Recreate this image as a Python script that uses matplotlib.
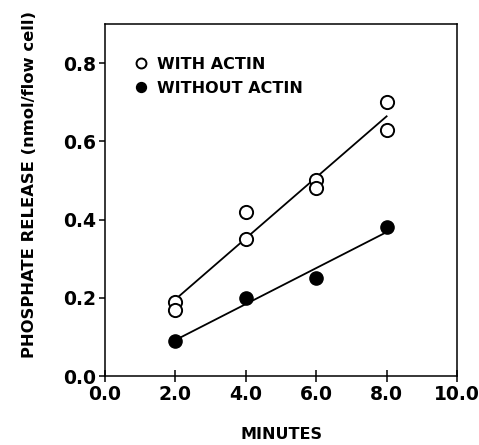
import numpy as np
import matplotlib.pyplot as plt

plt.rcParams['font.family'] = 'DejaVu Sans'
plt.rcParams['font.weight'] = 'bold'
plt.rcParams['axes.labelweight'] = 'bold'

# minutes / phosphate release (nmol/flow cell)
x_with = [2, 2, 4, 4, 6, 6, 8, 8]
y_with = [0.19, 0.17, 0.42, 0.35, 0.50, 0.48, 0.70, 0.63]
x_without = [2, 4, 6, 8]
y_without = [0.09, 0.20, 0.25, 0.38]

fig = plt.figure(figsize=(4.79, 4.45), dpi=100)
ax = fig.add_axes([0.2192, 0.155, 0.7349, 0.791])

# linear fits
xf = np.array([2, 8])
p1 = np.polyfit(x_with, y_with, 1)
p2 = np.polyfit(x_without, y_without, 1)
ax.plot(xf, np.polyval(p1, xf), color='black', lw=1.3, zorder=1)
ax.plot(xf, np.polyval(p2, xf), color='black', lw=1.3, zorder=1)

ax.plot(x_with, y_with, 'o', ms=9.5, mfc='white', mec='black', mew=1.4,
        ls='none', label='WITH ACTIN', zorder=2)
ax.plot(x_without, y_without, 'o', ms=9.5, mfc='black', mec='black',
        ls='none', label='WITHOUT ACTIN', zorder=2)

ax.set_xlim(0, 10)
ax.set_ylim(0, 0.9)
ax.set_xticks([0, 2, 4, 6, 8, 10])
ax.set_xticklabels(['0.0', '2.0', '4.0', '6.0', '8.0', '10.0'])
ax.set_yticks([0, 0.2, 0.4, 0.6, 0.8])
ax.set_yticklabels(['0.0', '0.2', '0.4', '0.6', '0.8'])
ax.tick_params(axis='x', direction='inout', length=9, width=1.1, labelsize=13.5, pad=2)
ax.tick_params(axis='y', direction='out', length=4.5, width=1.1, labelsize=13.5, pad=2)
for s in ax.spines.values():
    s.set_linewidth(1.1)

ax.set_xlabel('MINUTES', fontsize=11.5)
ax.xaxis.set_label_coords(0.5, -0.145)
ax.set_ylabel('PHOSPHATE RELEASE (nmol/flow cell)', fontsize=11.8)
ax.yaxis.set_label_coords(-0.193, 0.543)

leg = ax.legend(loc='upper left', bbox_to_anchor=(0.07, 0.925), frameon=False,
                fontsize=11.5, handlelength=0.6, handletextpad=0.7,
                labelspacing=0.55, markerscale=0.75, borderaxespad=0)

fig.savefig('out.png', dpi=100)
